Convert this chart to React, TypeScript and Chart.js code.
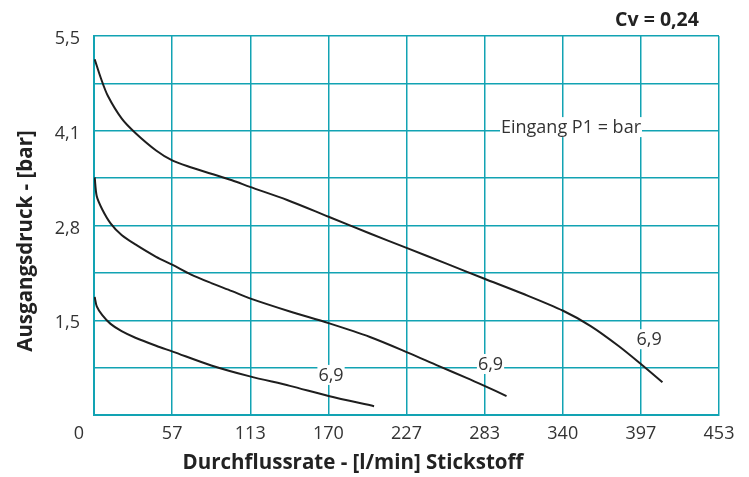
import React, { useEffect, useRef } from "react";
import { Chart, registerables } from "chart.js";

Chart.register(...registerables);

// Axis tick labels
const X_TICK_LABELS = ["0", "57", "113", "170", "227", "283", "340", "397", "453"];
const Y_TICK_LABELS = ["", "", "1,5", "", "2,8", "", "4,1", "", "5,5"];
const X_MAX = 453;
const Y_MIN = 0.2;
const Y_STEP = 0.65;

// Curve A (highest)
const flowA = [0.5, 5, 10, 20, 30, 45, 57, 70, 85, 100, 113, 140, 170, 200, 227, 255, 283, 310, 340, 360, 380, 397, 412];
const pressA = [5.08, 4.82, 4.58, 4.27, 4.07, 3.83, 3.69, 3.6, 3.51, 3.42, 3.33, 3.15, 2.92, 2.69, 2.49, 2.28, 2.07, 1.87, 1.63, 1.42, 1.15, 0.89, 0.65];

// Curve B (middle)
const flowB = [0.5, 2, 6, 12, 20, 30, 45, 57, 70, 85, 100, 113, 142, 170, 200, 227, 250, 270, 283, 299];
const pressB = [3.46, 3.2, 3.02, 2.83, 2.67, 2.54, 2.37, 2.26, 2.13, 2.01, 1.9, 1.8, 1.62, 1.46, 1.27, 1.06, 0.87, 0.71, 0.6, 0.46];

// Curve C (lowest)
const flowC = [0.5, 2, 6, 12, 20, 30, 45, 57, 85, 113, 142, 170, 203];
const pressC = [1.82, 1.69, 1.57, 1.45, 1.35, 1.26, 1.15, 1.07, 0.88, 0.73, 0.6, 0.46, 0.32];

// Curve labels (in data coordinates)
const curveLabels = [
  { text: "6,9", x: 171.8, y: 0.75, align: "center" },
  { text: "6,9", x: 287.4, y: 0.9, align: "center" },
  { text: "6,9", x: 402.3, y: 1.24, align: "center" },
  { text: "Eingang P1 = bar", x: 295.0, y: 4.15, align: "left" },
];

const TEAL = "#12a3b3";
const FONT = "'Open Sans', 'Noto Sans', sans-serif";

const toPts = (xs: number[], ys: number[]) => xs.map((x, i) => ({ x, y: ys[i] }));

export default function App() {
  const ref = useRef<HTMLCanvasElement | null>(null);

  useEffect(() => {
    document.body.style.margin = "0";
    const canvas = ref.current;
    if (!canvas) return;

    const overlay = {
      id: "overlay",
      afterDatasetsDraw(chart: any) {
        const ctx = chart.ctx;
        const xs = chart.scales.x;
        const ys = chart.scales.y;
        ctx.save();
        ctx.font = `18px ${FONT}`;
        ctx.textBaseline = "middle";
        for (const l of curveLabels) {
          const px = xs.getPixelForValue(l.x);
          const py = ys.getPixelForValue(l.y);
          const w = ctx.measureText(l.text).width;
          const left = l.align === "center" ? px - w / 2 : px;
          ctx.fillStyle = "#ffffff";
          ctx.fillRect(left - 1, py - 10, w + 2, 20);
          ctx.fillStyle = "#333333";
          ctx.textAlign = "left";
          ctx.fillText(l.text, left, py + 1);
        }
        ctx.restore();
      },
      afterDraw(chart: any) {
        const ctx = chart.ctx;
        const area = chart.chartArea;
        ctx.save();
        // "0" label, offset to the left of the axis
        ctx.font = `18px ${FONT}`;
        ctx.fillStyle = "#333333";
        ctx.textAlign = "center";
        ctx.textBaseline = "middle";
        ctx.fillText(X_TICK_LABELS[0], area.left - 15, area.bottom + 19);
        // Axis titles
        ctx.font = `bold 20.5px ${FONT}`;
        ctx.fillStyle = "#222222";
        ctx.fillText("Durchflussrate - [l/min] Stickstoff", 353, 463);
        ctx.save();
        ctx.translate(26, 241);
        ctx.rotate(-Math.PI / 2);
        ctx.fillText("Ausgangsdruck - [bar]", 0, 0);
        ctx.restore();
        // Cv
        ctx.font = `bold 19.5px ${FONT}`;
        ctx.fillText("Cv = 0,24", 657, 20);
        ctx.restore();
      },
    };

    const lineStyle = {
      borderColor: "#1e1e1e",
      borderWidth: 2,
      pointRadius: 0,
      fill: false,
      tension: 0.3,
    };

    const chart = new Chart(canvas, {
      type: "line",
      data: {
        datasets: [
          { label: "A", data: toPts(flowA, pressA), ...lineStyle },
          { label: "B", data: toPts(flowB, pressB), ...lineStyle },
          { label: "C", data: toPts(flowC, pressC), ...lineStyle },
        ],
      },
      options: {
        animation: false,
        responsive: false,
        layout: { padding: { top: 36, right: 30, left: 0, bottom: 0 } },
        plugins: { legend: { display: false }, tooltip: { enabled: false } },
        scales: {
          x: {
            type: "linear",
            min: 0,
            max: X_MAX,
            afterBuildTicks: (scale: any) => {
              scale.ticks = X_TICK_LABELS.map((_, i) => ({ value: (i * X_MAX) / (X_TICK_LABELS.length - 1) }));
            },
            afterFit: (scale: any) => {
              scale.height = 62;
            },
            ticks: {
              autoSkip: false,
              maxRotation: 0,
              padding: 8,
              color: "#333333",
              font: { family: FONT, size: 18 },
              callback: (_v: any, i: number) => (i === 0 ? "" : X_TICK_LABELS[i]),
            },
            grid: { color: TEAL, lineWidth: 1.5, drawTicks: false },
            border: { color: TEAL, width: 2 },
          },
          y: {
            type: "linear",
            min: Y_MIN,
            max: Y_MIN + Y_STEP * (Y_TICK_LABELS.length - 1),
            afterBuildTicks: (scale: any) => {
              scale.ticks = Y_TICK_LABELS.map((_, i) => ({ value: Y_MIN + i * Y_STEP }));
            },
            afterFit: (scale: any) => {
              scale.width = 94;
            },
            ticks: {
              autoSkip: false,
              padding: 14,
              labelOffset: 3,
              color: "#333333",
              font: { family: FONT, size: 18 },
              callback: (_v: any, i: number) => Y_TICK_LABELS[i],
            },
            grid: { color: TEAL, lineWidth: 1.5, drawTicks: false },
            border: { color: TEAL, width: 2 },
          },
        },
      },
      plugins: [overlay],
    });

    return () => chart.destroy();
  }, []);

  return (
    <div style={{ width: 749, height: 477, background: "#ffffff" }}>
      <canvas ref={ref} width={749} height={477} />
    </div>
  );
}
